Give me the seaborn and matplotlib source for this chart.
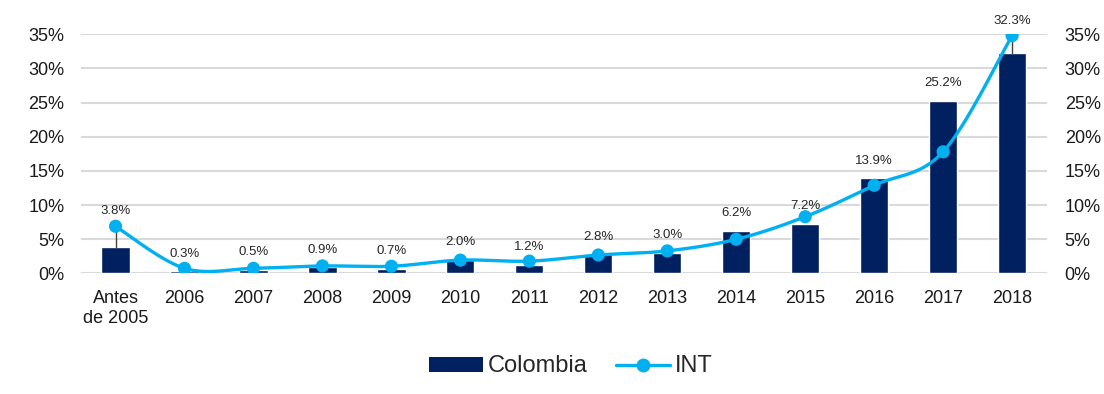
import numpy as np
import pandas as pd
import matplotlib
matplotlib.use("Agg")
import matplotlib.pyplot as plt
import seaborn as sns
from matplotlib.patches import Patch
from matplotlib.lines import Line2D

categories = ["Antes\nde 2005", "2006", "2007", "2008", "2009", "2010", "2011",
              "2012", "2013", "2014", "2015", "2016", "2017", "2018"]
colombia = [3.8, 0.3, 0.5, 0.9, 0.7, 2.0, 1.2, 2.8, 3.0, 6.2, 7.2, 13.9, 25.2, 32.3]
intl = [6.9, 0.75, 0.75, 1.1, 1.05, 1.95, 1.8, 2.7, 3.3, 5.0, 8.3, 12.9, 17.8, 34.8]
yticks = [0, 5, 10, 15, 20, 25, 30, 35]

NAVY = "#002060"
CYAN = "#00b0f0"
GRID = "#d9d9d9"

sns.set_style("white")
plt.rcParams["font.family"] = ["Liberation Sans", "DejaVu Sans"]

fig = plt.figure(figsize=(11.04, 3.94), dpi=100)
ax = fig.add_axes([0.0734, 0.306, 0.8746, 0.607])

df = pd.DataFrame({"cat": categories, "Colombia": colombia, "INT": intl})
df["x"] = np.arange(len(categories))

sns.barplot(data=df, x="cat", y="Colombia", color=NAVY, width=0.41,
            saturation=1, ax=ax, zorder=2)

# smooth line (Catmull-Rom Bezier through the data points, as Excel smoothing)
pts = np.column_stack([df["x"].values, df["INT"].values]).astype(float)
curve = []
n = len(pts)
for i in range(n - 1):
    p0 = pts[i - 1] if i > 0 else pts[i]
    p1 = pts[i]
    p2 = pts[i + 1]
    p3 = pts[i + 2] if i + 2 < n else pts[i + 1]
    c1 = p1 + (p2 - p0) / 6.0
    c2 = p2 - (p3 - p1) / 6.0
    t = np.linspace(0, 1, 30)[:, None]
    seg = ((1 - t) ** 3) * p1 + 3 * ((1 - t) ** 2) * t * c1 + 3 * (1 - t) * t ** 2 * c2 + t ** 3 * p2
    curve.append(seg if i == 0 else seg[1:])
curve = np.vstack(curve)
cdf = pd.DataFrame({"x": curve[:, 0], "y": curve[:, 1]})
sns.lineplot(data=cdf, x="x", y="y", sort=False, estimator=None, color=CYAN,
             linewidth=2.4, ax=ax, zorder=4)
sns.scatterplot(data=df, x="x", y="INT", color=CYAN, s=90, edgecolor="none",
                ax=ax, zorder=5)

# data labels
for i, v in enumerate(colombia):
    if i == 0:
        ax.plot([i, i], [v, 7.6], color="#404040", lw=1, zorder=3)
        ax.text(i, 9.2, f"{v:.1f}%", ha="center", va="center", fontsize=9.5,
                color="#262626")
    elif i == len(colombia) - 1:
        ax.plot([i, i], [v, 35.3], color="#404040", lw=1, zorder=3)
        ax.text(i, 37.0, f"{v:.1f}%", ha="center", va="center", fontsize=9.5,
                color="#262626", clip_on=False)
    else:
        ax.text(i, v + 2.6, f"{v:.1f}%", ha="center", va="center",
                fontsize=9.5, color="#262626")

ax.set_xlim(-0.5, len(categories) - 0.5)
ax.set_ylim(0, 35)
ax.set_yticks(yticks)
ax.set_yticklabels([f"{t}%" for t in yticks])
ax.yaxis.grid(True, color=GRID, lw=1.5, zorder=0)
ax.set_axisbelow(True)
ax.set_xlabel("")
ax.set_ylabel("")
for s in ax.spines.values():
    s.set_visible(False)
ax.tick_params(axis="both", length=0, labelsize=13, colors="#1a1a1a")
ax.tick_params(axis="x", pad=12)
ax.tick_params(axis="y", pad=12)
for lbl in ax.get_xticklabels():
    lbl.set_linespacing(1.2)

ax2 = ax.twinx()
ax2.set_ylim(0, 35)
ax2.set_yticks(yticks)
ax2.set_yticklabels([f"{t}%" for t in yticks])
ax2.tick_params(axis="y", length=0, labelsize=13, colors="#1a1a1a", pad=13)
for s in ax2.spines.values():
    s.set_visible(False)

handles = [Patch(facecolor=NAVY, edgecolor="none", label="Colombia"),
           Line2D([0], [0], color=CYAN, lw=2.4, marker="o", markersize=9,
                  label="INT")]
fig.legend(handles=handles, loc="center", bbox_to_anchor=(0.517, 0.070),
           ncol=2, frameon=False, fontsize=17, handlelength=2.3,
           handleheight=0.6, columnspacing=1.2, handletextpad=0.2)

fig.savefig("out.png", dpi=100)
